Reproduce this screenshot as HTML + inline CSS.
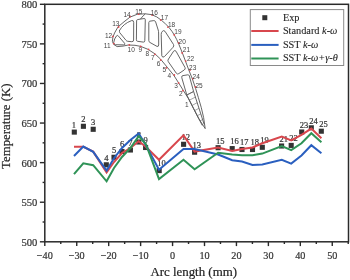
<!DOCTYPE html><html><head><meta charset="utf-8"><style>html,body{margin:0;padding:0;background:#fff;width:350px;height:280px;overflow:hidden}svg{display:block;will-change:transform}</style></head><body>
<svg width="350" height="280" viewBox="0 0 350 280" font-family="Liberation Serif, serif">
<style>.t{stroke:currentColor;stroke-width:0.2px;paint-order:stroke}.t2{stroke:currentColor;stroke-width:0.08px}</style>
<rect width="350" height="280" fill="#fff"/>
<g><polyline points="112.4,41.4 112.9,37.1 114.6,32.9 118.0,26.9 124.0,21.8 130.0,17.1 137.1,14.3 145.0,13.8 151.4,14.6 156.6,16.8 161.5,20.3 165.6,24.0 168.8,27.2 172.3,31.8 174.6,35.6 176.6,39.3 178.8,44.2 182.4,53.0 185.8,62.0 189.2,71.0 192.4,79.0 195.6,88.4 198.4,97.7 201.3,107.7 203.6,117.5 205.2,128.6" fill="none" stroke="#555" stroke-width="0.9"/><polyline points="112.4,41.4 113.7,44.4 117.1,46.6 123.1,46.1 128.3,45.0 135.0,45.3 140.7,46.4 147.9,49.3 155.0,53.9 160.7,59.3 167.1,67.1 173.6,75.0 178.5,82.7 183.4,90.6 188.3,98.4 193.4,108.4 198.6,118.4 205.2,128.6" fill="none" stroke="#555" stroke-width="0.9"/><g fill="none" stroke="#555" stroke-width="0.9"><path d="M116.6,35.8 Q117.4,35 118.2,35.8 L124.6,43.3 Q125.4,44.8 123.8,44.9 L115.4,44.7 Q113.5,44.5 113.7,42.6 Q114.2,38.6 116.6,35.8 Z"/><path d="M119.2,31 Q123.2,23.6 131.6,20.6 Q133.6,20 133.7,22.3 L133.6,40 Q133.6,41.8 131.8,41.7 L127.8,41.3 Q126.6,41.2 126,40.3 L119.7,32.6 Q119.1,31.8 119.6,31.2 Z"/><path d="M137.4,19.6 L144.2,18.5 Q145.3,18.4 145.3,19.8 L144.8,40.8 Q144.7,42.2 143.4,42.1 L137.5,41.3 Q136.4,41.1 136.4,39.8 L136.6,20.8 Q136.7,19.7 137.4,19.6 Z"/><path d="M140.5,19 L143.2,15.8 L145.2,14"/><path d="M149.8,21.2 L153.8,20.6 Q155,20.5 155.6,21.8 L158.2,30 Q158.6,31.3 158.6,33 L158.7,45 Q158.6,46.8 157,46.4 L150,42.5 Q148.8,41.9 148.8,40.6 L148.8,22.6 Q148.9,21.3 149.8,21.2 Z"/><path d="M162.2,31.5 Q163.6,29.8 165,31.3 L173.5,44.5 Q174.3,46 173,47.3 L164.5,56.5 Q162.5,58.2 161.8,55.8 L161.2,34.5 Q161.2,32.5 162.2,31.5 Z"/><path d="M173.6,51.2 Q174.9,49.8 176,51.2 L185,67.5 Q185.8,69.2 184.2,70 L178.8,73.6 Q177.3,74.6 176.3,73.2 L168.3,61.7 Q167.4,60.2 168.5,59 Z"/><path d="M181.8,77 Q181.5,75.8 183,75.6 L187.8,74.8 Q189,74.7 189.3,75.8 L193.6,91.5 L186.8,95 L181.8,77.8 Z"/><polyline points="186.8,95 202.3,125.5"/><polyline points="193.6,91.5 204.2,124.5"/></g><line x1="186.8" y1="95.0" x2="193.6" y2="91.5" stroke="#666" stroke-width="0.6"/><line x1="189.4" y1="100.2" x2="195.4" y2="97.1" stroke="#666" stroke-width="0.6"/><line x1="192.1" y1="105.4" x2="197.2" y2="102.7" stroke="#666" stroke-width="0.6"/><line x1="194.7" y1="110.6" x2="199.0" y2="108.3" stroke="#666" stroke-width="0.6"/><line x1="197.3" y1="115.7" x2="200.8" y2="113.9" stroke="#666" stroke-width="0.6"/><line x1="200.0" y1="120.9" x2="202.6" y2="119.5" stroke="#666" stroke-width="0.6"/><circle cx="182.9" cy="90.7" r="0.9" fill="#e04a50"/><circle cx="178.6" cy="82.9" r="0.9" fill="#e04a50"/><circle cx="174.3" cy="75" r="0.9" fill="#e04a50"/><circle cx="166.4" cy="67.9" r="0.9" fill="#e04a50"/><circle cx="160.7" cy="60" r="0.9" fill="#e04a50"/><circle cx="155" cy="54.3" r="0.9" fill="#e04a50"/><circle cx="148.6" cy="49.3" r="0.9" fill="#e04a50"/><circle cx="140.7" cy="46.4" r="0.9" fill="#e04a50"/><circle cx="129.3" cy="45" r="0.9" fill="#e04a50"/><circle cx="113.8" cy="43.6" r="0.9" fill="#e04a50"/><circle cx="112.9" cy="36.4" r="0.9" fill="#e04a50"/><circle cx="118.6" cy="27" r="0.9" fill="#e04a50"/><circle cx="130" cy="16.6" r="0.9" fill="#e04a50"/><circle cx="138.6" cy="14.2" r="0.9" fill="#e04a50"/><circle cx="152.1" cy="15.1" r="0.9" fill="#e04a50"/><circle cx="160.7" cy="20" r="0.9" fill="#e04a50"/><circle cx="167.9" cy="27.1" r="0.9" fill="#e04a50"/><circle cx="174.3" cy="35" r="0.9" fill="#e04a50"/><circle cx="178.6" cy="42.9" r="0.9" fill="#e04a50"/><circle cx="182.1" cy="52.9" r="0.9" fill="#e04a50"/><circle cx="185.7" cy="61.1" r="0.9" fill="#e04a50"/><circle cx="190" cy="70" r="0.9" fill="#e04a50"/><circle cx="192.9" cy="78.6" r="0.9" fill="#e04a50"/><circle cx="195.5" cy="87" r="0.9" fill="#e04a50"/><text x="186.75" y="106.89999999999999" font-family="Liberation Sans, sans-serif" font-size="6.5" fill="#444" text-anchor="middle">1</text><text x="180.7" y="96.19999999999999" font-family="Liberation Sans, sans-serif" font-size="6.5" fill="#444" text-anchor="middle">2</text><text x="176" y="88.3" font-family="Liberation Sans, sans-serif" font-size="6.5" fill="#444" text-anchor="middle">3</text><text x="169.3" y="77.8" font-family="Liberation Sans, sans-serif" font-size="6.5" fill="#444" text-anchor="middle">4</text><text x="164.3" y="71.89999999999999" font-family="Liberation Sans, sans-serif" font-size="6.5" fill="#444" text-anchor="middle">5</text><text x="158.6" y="65.5" font-family="Liberation Sans, sans-serif" font-size="6.5" fill="#444" text-anchor="middle">6</text><text x="152.9" y="59.800000000000004" font-family="Liberation Sans, sans-serif" font-size="6.5" fill="#444" text-anchor="middle">7</text><text x="147.3" y="55.800000000000004" font-family="Liberation Sans, sans-serif" font-size="6.5" fill="#444" text-anchor="middle">8</text><text x="140.3" y="52.2" font-family="Liberation Sans, sans-serif" font-size="6.5" fill="#444" text-anchor="middle">9</text><text x="131.2" y="51.6" font-family="Liberation Sans, sans-serif" font-size="6.5" fill="#444" text-anchor="middle">10</text><text x="107.2" y="48.1" font-family="Liberation Sans, sans-serif" font-size="6.5" fill="#444" text-anchor="middle">11</text><text x="108.6" y="37.6" font-family="Liberation Sans, sans-serif" font-size="6.5" fill="#444" text-anchor="middle">12</text><text x="115.8" y="26.200000000000003" font-family="Liberation Sans, sans-serif" font-size="6.5" fill="#444" text-anchor="middle">13</text><text x="127.1" y="16.900000000000002" font-family="Liberation Sans, sans-serif" font-size="6.5" fill="#444" text-anchor="middle">14</text><text x="138.8" y="13.6" font-family="Liberation Sans, sans-serif" font-size="6.5" fill="#444" text-anchor="middle">15</text><text x="154.3" y="14.9" font-family="Liberation Sans, sans-serif" font-size="6.5" fill="#444" text-anchor="middle">16</text><text x="164.4" y="19.900000000000002" font-family="Liberation Sans, sans-serif" font-size="6.5" fill="#444" text-anchor="middle">17</text><text x="171.5" y="26.8" font-family="Liberation Sans, sans-serif" font-size="6.5" fill="#444" text-anchor="middle">18</text><text x="177.9" y="33.9" font-family="Liberation Sans, sans-serif" font-size="6.5" fill="#444" text-anchor="middle">19</text><text x="182.2" y="43.6" font-family="Liberation Sans, sans-serif" font-size="6.5" fill="#444" text-anchor="middle">20</text><text x="186.4" y="52.0" font-family="Liberation Sans, sans-serif" font-size="6.5" fill="#444" text-anchor="middle">21</text><text x="190.5" y="61.300000000000004" font-family="Liberation Sans, sans-serif" font-size="6.5" fill="#444" text-anchor="middle">22</text><text x="192.7" y="70.19999999999999" font-family="Liberation Sans, sans-serif" font-size="6.5" fill="#444" text-anchor="middle">23</text><text x="196.2" y="79.19999999999999" font-family="Liberation Sans, sans-serif" font-size="6.5" fill="#444" text-anchor="middle">24</text><text x="199" y="88.1" font-family="Liberation Sans, sans-serif" font-size="6.5" fill="#444" text-anchor="middle">25</text></g>
<rect x="44.8" y="4.3" width="303.7" height="237.5" fill="none" stroke="#2a2a2a" stroke-width="1.5"/>
<line x1="44.80" y1="241.8" x2="44.80" y2="246.10000000000002" stroke="#2a2a2a" stroke-width="1.4"/>
<text class="t" color="#333" x="44.80" y="258.9" font-size="10.2" fill="#333" text-anchor="middle">−40</text>
<line x1="60.77" y1="241.8" x2="60.77" y2="244.0" stroke="#2a2a2a" stroke-width="1.4"/>
<line x1="76.74" y1="241.8" x2="76.74" y2="246.10000000000002" stroke="#2a2a2a" stroke-width="1.4"/>
<text class="t" color="#333" x="76.74" y="258.9" font-size="10.2" fill="#333" text-anchor="middle">−30</text>
<line x1="92.71" y1="241.8" x2="92.71" y2="244.0" stroke="#2a2a2a" stroke-width="1.4"/>
<line x1="108.68" y1="241.8" x2="108.68" y2="246.10000000000002" stroke="#2a2a2a" stroke-width="1.4"/>
<text class="t" color="#333" x="108.68" y="258.9" font-size="10.2" fill="#333" text-anchor="middle">−20</text>
<line x1="124.65" y1="241.8" x2="124.65" y2="244.0" stroke="#2a2a2a" stroke-width="1.4"/>
<line x1="140.62" y1="241.8" x2="140.62" y2="246.10000000000002" stroke="#2a2a2a" stroke-width="1.4"/>
<text class="t" color="#333" x="140.62" y="258.9" font-size="10.2" fill="#333" text-anchor="middle">−10</text>
<line x1="156.59" y1="241.8" x2="156.59" y2="244.0" stroke="#2a2a2a" stroke-width="1.4"/>
<line x1="172.56" y1="241.8" x2="172.56" y2="246.10000000000002" stroke="#2a2a2a" stroke-width="1.4"/>
<text class="t" color="#333" x="172.56" y="258.9" font-size="10.2" fill="#333" text-anchor="middle">0</text>
<line x1="188.53" y1="241.8" x2="188.53" y2="244.0" stroke="#2a2a2a" stroke-width="1.4"/>
<line x1="204.50" y1="241.8" x2="204.50" y2="246.10000000000002" stroke="#2a2a2a" stroke-width="1.4"/>
<text class="t" color="#333" x="204.50" y="258.9" font-size="10.2" fill="#333" text-anchor="middle">10</text>
<line x1="220.47" y1="241.8" x2="220.47" y2="244.0" stroke="#2a2a2a" stroke-width="1.4"/>
<line x1="236.44" y1="241.8" x2="236.44" y2="246.10000000000002" stroke="#2a2a2a" stroke-width="1.4"/>
<text class="t" color="#333" x="236.44" y="258.9" font-size="10.2" fill="#333" text-anchor="middle">20</text>
<line x1="252.41" y1="241.8" x2="252.41" y2="244.0" stroke="#2a2a2a" stroke-width="1.4"/>
<line x1="268.38" y1="241.8" x2="268.38" y2="246.10000000000002" stroke="#2a2a2a" stroke-width="1.4"/>
<text class="t" color="#333" x="268.38" y="258.9" font-size="10.2" fill="#333" text-anchor="middle">30</text>
<line x1="284.35" y1="241.8" x2="284.35" y2="244.0" stroke="#2a2a2a" stroke-width="1.4"/>
<line x1="300.32" y1="241.8" x2="300.32" y2="246.10000000000002" stroke="#2a2a2a" stroke-width="1.4"/>
<text class="t" color="#333" x="300.32" y="258.9" font-size="10.2" fill="#333" text-anchor="middle">40</text>
<line x1="316.29" y1="241.8" x2="316.29" y2="244.0" stroke="#2a2a2a" stroke-width="1.4"/>
<line x1="332.26" y1="241.8" x2="332.26" y2="246.10000000000002" stroke="#2a2a2a" stroke-width="1.4"/>
<text class="t" color="#333" x="332.26" y="258.9" font-size="10.2" fill="#333" text-anchor="middle">50</text>
<line x1="348.23" y1="241.8" x2="348.23" y2="244.0" stroke="#2a2a2a" stroke-width="1.4"/>
<line x1="44.8" y1="241.80" x2="39.9" y2="241.80" stroke="#2a2a2a" stroke-width="1.4"/>
<text class="t" color="#333" x="37.3" y="245.80" font-size="10.6" fill="#333" text-anchor="end">500</text>
<line x1="44.8" y1="222.01" x2="42.599999999999994" y2="222.01" stroke="#2a2a2a" stroke-width="1.4"/>
<line x1="44.8" y1="202.22" x2="39.9" y2="202.22" stroke="#2a2a2a" stroke-width="1.4"/>
<text class="t" color="#333" x="37.3" y="206.22" font-size="10.6" fill="#333" text-anchor="end">550</text>
<line x1="44.8" y1="182.42" x2="42.599999999999994" y2="182.42" stroke="#2a2a2a" stroke-width="1.4"/>
<line x1="44.8" y1="162.63" x2="39.9" y2="162.63" stroke="#2a2a2a" stroke-width="1.4"/>
<text class="t" color="#333" x="37.3" y="166.63" font-size="10.6" fill="#333" text-anchor="end">600</text>
<line x1="44.8" y1="142.84" x2="42.599999999999994" y2="142.84" stroke="#2a2a2a" stroke-width="1.4"/>
<line x1="44.8" y1="123.05" x2="39.9" y2="123.05" stroke="#2a2a2a" stroke-width="1.4"/>
<text class="t" color="#333" x="37.3" y="127.05" font-size="10.6" fill="#333" text-anchor="end">650</text>
<line x1="44.8" y1="103.25" x2="42.599999999999994" y2="103.25" stroke="#2a2a2a" stroke-width="1.4"/>
<line x1="44.8" y1="83.46" x2="39.9" y2="83.46" stroke="#2a2a2a" stroke-width="1.4"/>
<text class="t" color="#333" x="37.3" y="87.46" font-size="10.6" fill="#333" text-anchor="end">700</text>
<line x1="44.8" y1="63.67" x2="42.599999999999994" y2="63.67" stroke="#2a2a2a" stroke-width="1.4"/>
<line x1="44.8" y1="43.88" x2="39.9" y2="43.88" stroke="#2a2a2a" stroke-width="1.4"/>
<text class="t" color="#333" x="37.3" y="47.88" font-size="10.6" fill="#333" text-anchor="end">750</text>
<line x1="44.8" y1="24.08" x2="42.599999999999994" y2="24.08" stroke="#2a2a2a" stroke-width="1.4"/>
<line x1="44.8" y1="4.29" x2="39.9" y2="4.29" stroke="#2a2a2a" stroke-width="1.4"/>
<text class="t" color="#333" x="37.3" y="8.29" font-size="10.6" fill="#333" text-anchor="end">800</text>
<text class="t" color="#222" x="193.7" y="276" font-size="12.9" fill="#222" text-anchor="middle">Arc length (mm)</text>
<text class="t" color="#222" transform="translate(10.3,126.2) rotate(-90)" font-size="12.8" fill="#222" text-anchor="middle">Temperature (K)</text>
<rect x="71.75" y="129.55" width="5.1" height="5.1" fill="#333"/>
<rect x="80.85" y="123.75" width="5.1" height="5.1" fill="#333"/>
<rect x="90.65" y="126.75" width="5.1" height="5.1" fill="#333"/>
<rect x="103.75" y="162.25" width="5.1" height="5.1" fill="#333"/>
<rect x="111.45" y="154.75" width="5.1" height="5.1" fill="#333"/>
<rect x="119.45" y="148.95" width="5.1" height="5.1" fill="#333"/>
<rect x="127.85" y="147.45" width="5.1" height="5.1" fill="#333"/>
<rect x="136.25" y="139.45" width="5.1" height="5.1" fill="#333"/>
<rect x="143.05" y="144.95" width="5.1" height="5.1" fill="#333"/>
<rect x="156.65" y="168.05" width="5.1" height="5.1" fill="#333"/>
<rect x="181.05" y="141.75" width="5.1" height="5.1" fill="#333"/>
<rect x="192.05" y="149.65" width="5.1" height="5.1" fill="#333"/>
<rect x="215.55" y="145.15" width="5.1" height="5.1" fill="#333"/>
<rect x="229.65" y="146.05" width="5.1" height="5.1" fill="#333"/>
<rect x="239.45" y="146.95" width="5.1" height="5.1" fill="#333"/>
<rect x="249.95" y="146.95" width="5.1" height="5.1" fill="#333"/>
<rect x="259.75" y="144.75" width="5.1" height="5.1" fill="#333"/>
<rect x="279.05" y="143.45" width="5.1" height="5.1" fill="#333"/>
<rect x="288.65" y="142.85" width="5.1" height="5.1" fill="#333"/>
<rect x="299.15" y="129.45" width="5.1" height="5.1" fill="#333"/>
<rect x="308.75" y="125.25" width="5.1" height="5.1" fill="#333"/>
<rect x="318.75" y="128.65" width="5.1" height="5.1" fill="#333"/>
<text class="t" color="#333" x="73.80" y="127.90" font-size="8.5" fill="#333" text-anchor="middle">1</text>
<text class="t" color="#333" x="83.40" y="122.10" font-size="8.5" fill="#333" text-anchor="middle">2</text>
<text class="t" color="#333" x="93.20" y="125.10" font-size="8.5" fill="#333" text-anchor="middle">3</text>
<text class="t" color="#333" x="106.30" y="160.60" font-size="8.5" fill="#333" text-anchor="middle">4</text>
<text class="t" color="#333" x="114.00" y="153.10" font-size="8.5" fill="#333" text-anchor="middle">5</text>
<text class="t" color="#333" x="122.00" y="147.30" font-size="8.5" fill="#333" text-anchor="middle">6</text>
<text class="t" color="#333" x="130.40" y="145.80" font-size="8.5" fill="#333" text-anchor="middle">7</text>
<text class="t" color="#333" x="138.80" y="137.80" font-size="8.5" fill="#333" text-anchor="middle">8</text>
<text class="t" color="#333" x="145.60" y="143.30" font-size="8.5" fill="#333" text-anchor="middle">9</text>
<text class="t" color="#333" x="161.40" y="166.40" font-size="8.5" fill="#333" text-anchor="middle">10</text>
<text class="t" color="#333" x="185.80" y="140.10" font-size="8.5" fill="#333" text-anchor="middle">12</text>
<text class="t" color="#333" x="196.80" y="148.00" font-size="8.5" fill="#333" text-anchor="middle">13</text>
<text class="t" color="#333" x="220.30" y="143.50" font-size="8.5" fill="#333" text-anchor="middle">15</text>
<text class="t" color="#333" x="234.40" y="144.40" font-size="8.5" fill="#333" text-anchor="middle">16</text>
<text class="t" color="#333" x="244.20" y="145.30" font-size="8.5" fill="#333" text-anchor="middle">17</text>
<text class="t" color="#333" x="254.70" y="145.30" font-size="8.5" fill="#333" text-anchor="middle">18</text>
<text class="t" color="#333" x="264.50" y="143.10" font-size="8.5" fill="#333" text-anchor="middle">19</text>
<text class="t" color="#333" x="283.80" y="141.80" font-size="8.5" fill="#333" text-anchor="middle">21</text>
<text class="t" color="#333" x="293.40" y="141.20" font-size="8.5" fill="#333" text-anchor="middle">22</text>
<text class="t" color="#333" x="303.90" y="127.80" font-size="8.5" fill="#333" text-anchor="middle">23</text>
<text class="t" color="#333" x="313.50" y="123.60" font-size="8.5" fill="#333" text-anchor="middle">24</text>
<text class="t" color="#333" x="323.50" y="127.00" font-size="8.5" fill="#333" text-anchor="middle">25</text>
<polyline points="74.0,146.8 83.3,146.8 93.2,151.6 106.6,172.4 114.0,162.0 122.0,153.0 130.4,148.0 138.7,141.2 145.8,146.8 159.0,159.8 183.5,135.2 194.6,151.6 218.1,147.6 232.2,151.0 242.0,149.0 252.5,147.5 262.3,143.3 281.8,136.6 291.2,140.4 301.5,134.8 311.3,128.6 321.4,138.3" fill="none" stroke="#d8474d" stroke-width="2" stroke-linejoin="miter"/>
<polyline points="74.0,156.0 83.3,146.6 93.2,151.8 106.6,170.6 114.0,158.2 122.0,148.0 130.4,140.0 138.7,133.5 145.8,145.0 159.0,169.8 183.5,149.0 194.6,149.0 218.1,154.5 232.2,160.2 242.0,161.5 252.5,165.0 262.3,164.4 281.8,159.8 291.2,163.6 301.5,155.5 311.3,145.2 321.4,153.2" fill="none" stroke="#2a5fbf" stroke-width="2"/>
<polyline points="74.0,174.2 83.3,163.3 93.2,165.2 106.6,181.3 114.0,168.0 122.0,157.0 130.4,148.0 138.7,136.2 145.8,144.0 159.0,179.0 183.5,159.8 194.6,169.2 218.1,152.8 232.2,154.6 242.0,155.2 252.5,155.2 262.3,153.6 281.8,146.0 291.2,150.2 301.5,143.3 311.3,133.2 321.4,142.2" fill="none" stroke="#2f9357" stroke-width="2"/>
<rect x="250.3" y="9.6" width="93.4" height="55.9" fill="#fff" stroke="#8a8a8a" stroke-width="1"/>
<rect x="262.3" y="15.2" width="5" height="5" fill="#333"/>
<line x1="251.3" y1="31" x2="278.6" y2="31" stroke="#d8474d" stroke-width="2"/>
<line x1="251.3" y1="44.9" x2="278.6" y2="44.9" stroke="#2a5fbf" stroke-width="2"/>
<line x1="251.3" y1="58.5" x2="278.6" y2="58.5" stroke="#2f9357" stroke-width="2"/>
<text class="t2" color="#222" x="282.9" y="21.4" font-size="10.3" fill="#222">Exp</text>
<text class="t2" color="#222" x="282.9" y="34.4" font-size="10.3" fill="#222">Standard <tspan font-style="italic">k-ω</tspan></text>
<text class="t2" color="#222" x="282.9" y="47.9" font-size="10.3" fill="#222">SST <tspan font-style="italic">k-ω</tspan></text>
<text class="t2" color="#222" x="282.9" y="61.4" font-size="10.3" fill="#222">SST <tspan font-style="italic">k-ω+γ-θ</tspan></text>
</svg></body></html>
